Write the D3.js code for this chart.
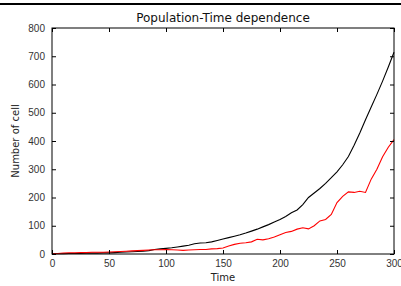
<!DOCTYPE html>
<html>
<head>
<meta charset="utf-8">
<script src="https://cdn.jsdelivr.net/npm/d3@7"></script>
<style>
	body { margin: 0; background: #fff; }
	svg { display: block; font-family: "DejaVu Sans", sans-serif; }
</style>
</head>
<body>
<div id="chart"></div>
<script>
// time steps (x) and the two series
var time = d3.range(0, 301, 5);
var total = [1, 1, 1, 2, 2, 2, 3, 3, 3, 4, 4, 5, 6, 7, 8, 9, 10, 12, 16, 18,
	20, 22, 25, 28, 31, 36, 39, 40, 43, 48, 53, 58, 63, 68, 74, 81, 88, 96, 104, 113,
	122, 133, 146, 156, 175, 200, 216, 232, 250, 270, 291, 316, 345, 385, 428, 475, 520, 565, 612, 662,
	714];
var red = [1, 2, 3, 4, 4, 5, 5, 6, 6, 6, 7, 8, 9, 10, 11, 12, 13, 14, 15, 15,
	16, 15, 14, 13, 14, 15, 16, 16, 18, 19, 21, 28, 34, 38, 40, 43, 52, 50, 54, 60,
	68, 76, 80, 88, 93, 89, 100, 117, 122, 140, 182, 204, 220, 218, 222, 218, 265, 300, 344, 378,
	405];
var xTicks = [0, 50, 100, 150, 200, 250, 300];
var yTicks = [0, 100, 200, 300, 400, 500, 600, 700, 800];

var width = 401, height = 286;
var margin = { top: 28, right: 7, bottom: 32, left: 52 };
var w = width - margin.left - margin.right,
	h = height - margin.top - margin.bottom;

var svg = d3.select("#chart").append("svg")
	.attr("width", width)
	.attr("height", height);

// dark band along the top of the screenshot
svg.append("rect")
	.attr("x", 0).attr("y", 3)
	.attr("width", width).attr("height", 2)
	.attr("fill", "#000");

var x = d3.scaleLinear().domain([0, 300]).range([0, w]);
var y = d3.scaleLinear().domain([0, 800]).range([h, 0]);

var g = svg.append("g").attr("transform", `translate(${margin.left},${margin.top})`);

var line = d3.line()
	.x((d, i) => x(time[i]))
	.y((d) => y(d));

g.append("path").datum(total)
	.attr("fill", "none").attr("stroke", "#000").attr("stroke-width", 1.1)
	.attr("d", line);

g.append("path").datum(red)
	.attr("fill", "none").attr("stroke", "#ff0000").attr("stroke-width", 1.1)
	.attr("d", line);

// axes, ticks pointing inward on all sides
function styleAxis(sel) {
	sel.select(".domain").remove();
	sel.selectAll("line").attr("stroke", "#000");
	sel.selectAll("text").attr("fill", "#333").style("font-size", "10px");
}

g.append("g").attr("transform", `translate(0,${h})`)
	.call(d3.axisBottom(x).tickValues(xTicks).tickSizeInner(-4).tickSizeOuter(0).tickPadding(6))
	.call(styleAxis);
g.append("g")
	.call(d3.axisLeft(y).tickValues(yTicks).tickSizeInner(-4).tickSizeOuter(0).tickPadding(7))
	.call(styleAxis);
g.append("g")
	.call(d3.axisTop(x).tickValues(xTicks).tickSizeInner(-4).tickSizeOuter(0).tickFormat(""))
	.call(styleAxis);
g.append("g").attr("transform", `translate(${w},0)`)
	.call(d3.axisRight(y).tickValues(yTicks).tickSizeInner(-4).tickSizeOuter(0).tickFormat(""))
	.call(styleAxis);

g.append("rect")
	.attr("x", 0).attr("y", 0).attr("width", w).attr("height", h)
	.attr("fill", "none").attr("stroke", "#000").attr("stroke-width", 1);

svg.append("text")
	.attr("x", margin.left + w / 2).attr("y", 22)
	.attr("text-anchor", "middle")
	.style("font-size", "12px")
	.attr("fill", "#111")
	.text("Population-Time dependence");

svg.append("text")
	.attr("x", margin.left + w / 2).attr("y", 281)
	.attr("text-anchor", "middle")
	.style("font-size", "10px")
	.attr("fill", "#222")
	.text("Time");

svg.append("text")
	.attr("transform", `translate(19,${margin.top + h / 2}) rotate(-90)`)
	.attr("text-anchor", "middle")
	.style("font-size", "10px")
	.attr("fill", "#222")
	.text("Number of cell");
</script>
</body>
</html>
